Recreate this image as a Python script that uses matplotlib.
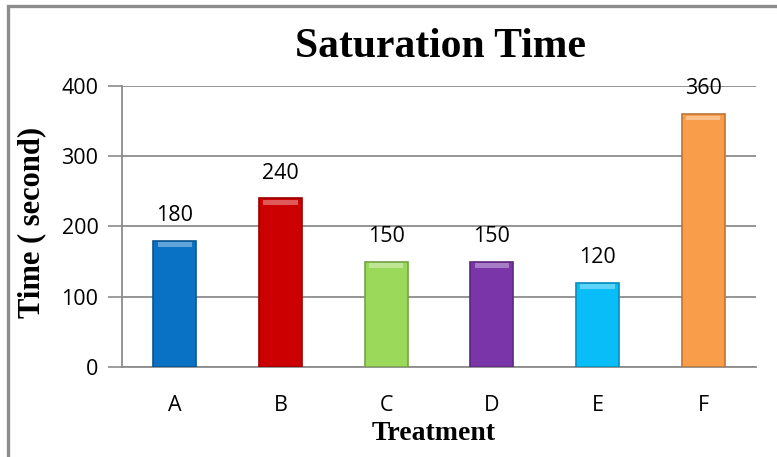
import matplotlib
matplotlib.use("Agg")
import matplotlib.pyplot as plt
from matplotlib.patches import Rectangle
import matplotlib.colors as mcolors

categories = ["A", "B", "C", "D", "E", "F"]
values = [180, 240, 150, 150, 120, 360]
colors = ["#0A72C4", "#CC0000", "#9BD95A", "#7A35A8", "#08BDF8", "#F99D4B"]
yticks = [0, 100, 200, 300, 400]

fig = plt.figure(figsize=(7.77, 4.57), dpi=100)
fig.patches.append(Rectangle((7.5/777, -0.1), 1.2, 1.1 - 6/457, transform=fig.transFigure,
                             fill=False, edgecolor="#8c8c8c", linewidth=2.4))
ax = fig.add_axes([122/777, 1 - 367/457, (756 - 122)/777, (367 - 86)/457])

x = list(range(len(categories)))
def darker(c, f=0.75):
    r, g, b = mcolors.to_rgb(c)
    return (r*f, g*f, b*f)
def lighter(c, f=0.35):
    r, g, b = mcolors.to_rgb(c)
    return (r + (1-r)*f, g + (1-g)*f, b + (1-b)*f)

bars = ax.bar(x, values, width=0.41, color=colors, zorder=3,
              edgecolor=[darker(c) for c in colors], linewidth=1.2)
# bevel highlight at top of each bar
for b, c in zip(bars, colors):
    ax.bar(b.get_x() + b.get_width()/2, 7, width=b.get_width()*0.8,
           bottom=b.get_height() - 9, color=lighter(c), zorder=4, linewidth=0)

for xi, v in zip(x, values):
    ax.text(xi, v + 21, str(v), ha="center", va="bottom", fontsize=15.5,
            family="Open Sans", color="black")

ax.set_xlim(-0.5, len(categories) - 0.5)
ax.set_ylim(0, 400)
ax.set_yticks(yticks)
ax.set_yticklabels([str(t) for t in yticks], fontsize=15.5, family="Open Sans")
ax.set_xticks(x)
ax.set_xticklabels(categories, fontsize=15.5, family="Open Sans")
ax.tick_params(axis="x", length=0, pad=20)
ax.tick_params(axis="y", length=10, color="#8c8c8c", width=1.2, pad=7)
ax.yaxis.grid(True, color="#8c8c8c", linewidth=1.3, zorder=0)
ax.set_axisbelow(True)
for s in ["top", "right"]:
    ax.spines[s].set_visible(False)
for s in ["left", "bottom"]:
    ax.spines[s].set_color("#8c8c8c")
    ax.spines[s].set_linewidth(1.3)

fig.text(440/777, 1 - 47/457, "Saturation Time", ha="center", va="center",
         fontsize=30, fontweight="bold", family="Liberation Serif")
fig.text(32/777, 1 - 222/457, "Time ( second)", ha="center", va="center",
         rotation=90, fontsize=22, fontweight="bold", family="Liberation Serif")
fig.text(434/777, 1 - 433/457, "Treatment", ha="center", va="center",
         fontsize=20, fontweight="bold", family="Liberation Serif")

fig.savefig("out.png", dpi=100)
